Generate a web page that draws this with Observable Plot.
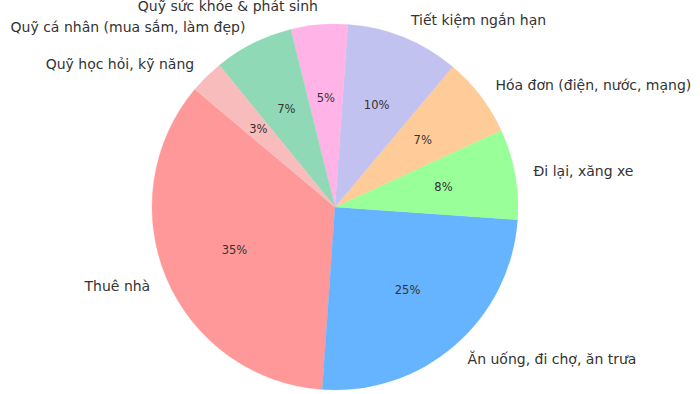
<!DOCTYPE html>
<html>
<head>
<meta charset="utf-8">
<script src="https://cdn.jsdelivr.net/npm/d3@7"></script>
<script src="https://cdn.jsdelivr.net/npm/@observablehq/plot@0.6"></script>
<style>
  html, body { margin: 0; padding: 0; background: #fff; }
  #chart { width: 700px; height: 394px; }
</style>
</head>
<body>
<div id="chart"></div>
<script>
// ---- data ----
const categories = [
  "Thuê nhà",
  "Ăn uống, đi chợ, ăn trưa",
  "Đi lại, xăng xe",
  "Hóa đơn (điện, nước, mạng)",
  "Tiết kiệm ngắn hạn",
  "Quỹ sức khỏe & phát sinh",
  "Quỹ cá nhân (mua sắm, làm đẹp)",
  "Quỹ học hỏi, kỹ năng"
];
const values = [35, 25, 8, 7, 10, 5, 7, 3];
const colors = ["#ff9999", "#66b3ff", "#99ff99", "#ffcc99", "#c2c2f0", "#ffb3e6", "#8fd9b6", "#f9bcbc"];

// ---- layout ----
const W = 700, H = 394;
const CX = 335, CY = 207, R = 183;
const START_DEG = 140; // counterclockwise start angle from east

const total = d3.sum(values);
const toRad = d => d * Math.PI / 180;
// d3 angles: clockwise from 12 o'clock; counterclockwise order via negative span
const pie = d3.pie().sort(null).value(d => d.value)
  .startAngle(toRad(90 - START_DEG))
  .endAngle(toRad(90 - START_DEG - 360));

const table = categories.map((c, i) => ({category: c, value: values[i], color: colors[i]}));
const arcs = pie(table).map(a => {
  const mid = (a.startAngle + a.endAngle) / 2;
  return {
    ...a,
    label: a.data.category,
    pct: Math.round(a.data.value / total * 100) + "%",
    lx: 1.1 * Math.sin(mid), ly: 1.1 * Math.cos(mid),
    px: 0.6 * Math.sin(mid), py: 0.6 * Math.cos(mid)
  };
});

const slices = (a, b) => {
  const scales = (b && typeof b.x === "function") ? b : a;
  const x = scales.x, y = scales.y;
  const cx = x(0), cy = y(0), r = x(1) - x(0);
  const arc = d3.arc().innerRadius(0).outerRadius(r);
  const g = d3.create("svg:g").attr("transform", `translate(${cx},${cy})`);
  g.selectAll("path").data(arcs).join("path")
    .attr("d", arc)
    .attr("fill", d => d.data.color)
    .attr("stroke", d => d.data.color)
    .attr("stroke-width", 0.3);
  return g.node();
};

const chart = Plot.plot({
  width: W, height: H,
  margin: 0,
  x: {domain: [-CX / R, (W - CX) / R], axis: null},
  y: {domain: [-(H - CY) / R, CY / R], axis: null},
  style: {fontFamily: "DejaVu Sans, sans-serif", background: "#fff"},
  marks: [
    slices,
    Plot.text(arcs.filter(d => d.lx >= 0), {
      x: "lx", y: "ly", text: "label", textAnchor: "start",
      fontSize: 14, fill: "#333", fontFamily: "DejaVu Sans"
    }),
    Plot.text(arcs.filter(d => d.lx < 0), {
      x: "lx", y: "ly", text: "label", textAnchor: "end",
      fontSize: 14, fill: "#333", fontFamily: "DejaVu Sans"
    }),
    Plot.text(arcs, {
      x: "px", y: "py", text: "pct",
      fontSize: 11.5, fill: "#333", fontFamily: "DejaVu Sans"
    })
  ]
});
document.getElementById("chart").appendChild(chart);
</script>
</body>
</html>
